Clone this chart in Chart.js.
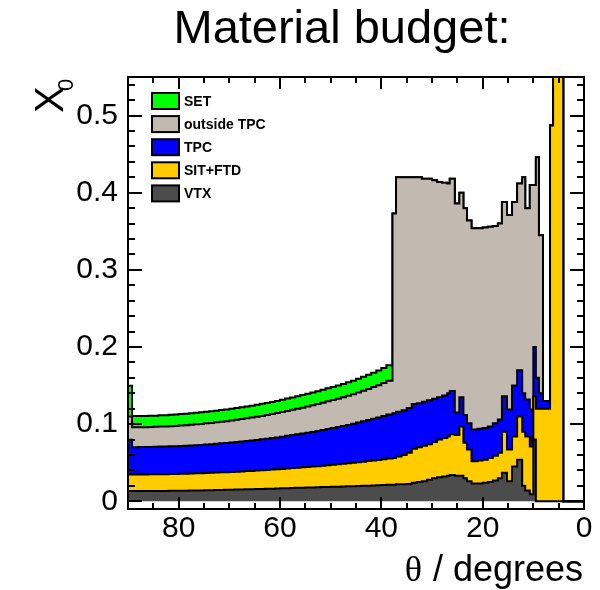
<!DOCTYPE html>
<html><head><meta charset="utf-8">
<script src="https://cdn.jsdelivr.net/npm/chart.js@4/dist/chart.umd.min.js"></script>
<style>html,body{margin:0;padding:0;background:#fff}canvas{display:block}</style>
</head><body>
<canvas id="c" width="600" height="590"></canvas>
<script>
// Bin edges in theta (degrees), from 90 down to 0
const thetaEdges = [90, 89.2, 88, 87, 86, 85, 84, 83, 82, 81, 80, 79, 78, 77, 76, 75, 74, 73, 72, 71, 70, 69, 68, 67, 66,
  65, 64, 63, 62, 61, 60, 59, 58, 57, 56, 55, 54, 53, 52, 51, 50, 49, 48, 47, 46, 45, 44, 43, 42, 41, 40, 39,
  37.8, 37.1, 36, 35, 34, 33, 32, 31, 30, 29, 28, 27, 26.5, 25.5, 24.6, 23.8, 23.1, 22.2, 21, 20, 19, 18, 17, 16.2, 15.2, 14.2,
  13.2, 12.2, 11.6, 10.7, 10, 9.5, 8.9, 8.1, 6.7, 6.1, 4.1, 0];

// Per-bin material budget (X0) of each sub-detector
const vtx = [0.0133, 0.0132,
  0.0133, 0.0133, 0.0133, 0.0133, 0.0134, 0.0134, 0.0135, 0.0136, 0.0137, 0.0138, 0.0139, 0.0140, 0.0141, 0.0143, 0.0144,
  0.0146, 0.0147, 0.0149, 0.0150, 0.0152, 0.0153, 0.0155, 0.0156, 0.0158, 0.0160, 0.0162, 0.0164, 0.0166, 0.0168, 0.0170,
  0.0172, 0.0174, 0.0176, 0.0178, 0.0180, 0.0182, 0.0184, 0.0186, 0.0188, 0.0190, 0.0192, 0.0194, 0.0196, 0.0198, 0.0201,
  0.0203, 0.0206, 0.0208, 0.0211, 0.0214,
  0.0215, 0.022, 0.022, 0.0225, 0.024, 0.025, 0.026, 0.028, 0.030, 0.031, 0.032, 0.033, 0.034, 0.033, 0.033, 0.030, 0.026,
  0.023, 0.023, 0.024, 0.025, 0.027, 0.030, 0.037, 0.026, 0.045, 0.054, 0.020, 0.014, 0.009, 0.080, 0, 0, 0, 0, 0, 0];
const sitFtd = [0.0215, 0.0215,
  0.0215, 0.0215, 0.0216, 0.0216, 0.0217, 0.0217, 0.0218, 0.0218, 0.0219, 0.0220, 0.0221, 0.0222, 0.0223, 0.0224, 0.0225,
  0.0226, 0.0228, 0.0229, 0.0231, 0.0232, 0.0234, 0.0236, 0.0238, 0.0240, 0.0242, 0.0244, 0.0247, 0.0249, 0.0252, 0.0255,
  0.0258, 0.0261, 0.0264, 0.0267, 0.0270, 0.0273, 0.0277, 0.0281, 0.0285, 0.0289, 0.0294, 0.0298, 0.0303, 0.0308, 0.0313,
  0.0318, 0.0323, 0.0328, 0.0334, 0.0340,
  0.0345, 0.036, 0.038, 0.0405, 0.044, 0.045, 0.046, 0.046, 0.047, 0.049, 0.050, 0.051, 0.053, 0.053, 0.064, 0.046, 0.041,
  0.029, 0.030, 0.030, 0.031, 0.032, 0.033, 0.053, 0.041, 0.039, 0.056, 0.070, 0.070, 0.062, 0.056, 0.120, 0.120, 0.120,
  0.487, 0.700, 0];
const tpc = [0.045, 0.0355,
  0.0355, 0.0356, 0.0356, 0.0357, 0.0358, 0.0358, 0.0359, 0.0360, 0.0361, 0.0363, 0.0364, 0.0366, 0.0367, 0.0369, 0.0371,
  0.0373, 0.0376, 0.0378, 0.0381, 0.0384, 0.0387, 0.0390, 0.0393, 0.0397, 0.0401, 0.0405, 0.0409, 0.0413, 0.0418, 0.0423,
  0.0428, 0.0433, 0.0438, 0.0444, 0.0449, 0.0455, 0.0462, 0.0469, 0.0476, 0.0483, 0.0490, 0.0498, 0.0506, 0.0514, 0.0523,
  0.0532, 0.0541, 0.0551, 0.0561, 0.0572,
  0.058, 0.058, 0.058, 0.058, 0.058, 0.057, 0.057, 0.057, 0.056, 0.055, 0.055, 0.056, 0.056, 0.029, 0.038, 0.036, 0.034,
  0.041, 0.041, 0.041, 0.041, 0.042, 0.043, 0.046, 0.052, 0.066, 0.060, 0.050, 0.048, 0.048, 0.064, 0.040, 0.020, 0.010,
  0, 0, 0];
const outsideTpc = [0.030, 0.0257,
  0.0257, 0.0257, 0.0258, 0.0259, 0.0260, 0.0261, 0.0262, 0.0263, 0.0265, 0.0266, 0.0268, 0.0270, 0.0272, 0.0274, 0.0276,
  0.0278, 0.0281, 0.0283, 0.0286, 0.0289, 0.0292, 0.0295, 0.0298, 0.0301, 0.0304, 0.0308, 0.0311, 0.0315, 0.0319, 0.0323,
  0.0327, 0.0332, 0.0336, 0.0341, 0.0345, 0.0350, 0.0355, 0.0360, 0.0364, 0.0368, 0.0373, 0.0378, 0.0383, 0.0389, 0.0396,
  0.0403, 0.0410, 0.0418, 0.0427, 0.0437,
  0.259, 0.304, 0.302, 0.299, 0.294, 0.293, 0.289, 0.287, 0.283, 0.279, 0.276, 0.272, 0.275, 0.271, 0.265, 0.268, 0.263,
  0.261, 0.260, 0.260, 0.259, 0.256, 0.254, 0.252, 0.252, 0.238, 0.242, 0.280, 0.248, 0.291, 0.210, 0.286, 0.205, 0,
  0, 0, 0];
const setValues = [0.040, 0.0145,
  0.0145, 0.0145, 0.0145, 0.0145, 0.0146, 0.0146, 0.0147, 0.0147, 0.0148, 0.0148, 0.0149, 0.0149, 0.0150, 0.0150, 0.0151,
  0.0151, 0.0152, 0.0152, 0.0153, 0.0153, 0.0154, 0.0154, 0.0155, 0.0155, 0.0156, 0.0156, 0.0157, 0.0158, 0.0159, 0.0160,
  0.0161, 0.0162, 0.0163, 0.0164, 0.0165, 0.0166, 0.0167, 0.0168, 0.0169, 0.0170, 0.0172, 0.0174, 0.0176, 0.0178, 0.0181,
  0.0184, 0.0187, 0.0191, 0.0195, 0.0200,
  0, 0, 0, 0, 0, 0, 0, 0, 0, 0, 0, 0, 0, 0, 0, 0, 0, 0, 0, 0, 0, 0, 0, 0, 0, 0, 0, 0, 0, 0, 0, 0, 0, 0, 0, 0, 0];

const seriesLabels = ['VTX', 'SIT+FTD', 'TPC', 'outside TPC', 'SET'];
const seriesColors = ['#4c4c4c', '#ffcc00', '#0000ff', '#c2b9b0', '#00ff00'];
const xTicks = [0, 20, 40, 60, 80];
const yTicks = [0, 0.1, 0.2, 0.3, 0.4, 0.5];

function toPoints(vals) {
  return thetaEdges.map((e, i) => ({ x: e, y: vals[Math.min(i, vals.length - 1)] }));
}
const seriesValues = [vtx, sitFtd, tpc, outsideTpc, setValues];
const datasets = seriesValues.map((vals, i) => ({
  label: seriesLabels[i],
  data: toPoints(vals),
  stepped: true,
  fill: i === 0 ? 'origin' : '-1',
  backgroundColor: seriesColors[i],
  borderColor: '#000',
  borderWidth: 2,
  pointRadius: 0,
  tension: 0
}));

const decor = {
  id: 'decor',
  afterDraw(chart) {
    const { ctx, chartArea: a, scales } = chart;
    const xs = scales.x, ys = scales.y;
    ctx.save();
    ctx.strokeStyle = '#000';
    ctx.lineWidth = 2;
    // y ticks (inside, both sides)
    for (let k = 0; k <= 27; k++) {
      const py = Math.round(ys.getPixelForValue(k * 0.02));
      const len = (k % 5 === 0) ? 14 : 7;
      ctx.beginPath();
      ctx.moveTo(a.left, py); ctx.lineTo(a.left + len, py);
      ctx.moveTo(a.right, py); ctx.lineTo(a.right - len, py);
      ctx.stroke();
    }
    // x ticks (inside, bottom and top)
    for (let t = 0; t <= 90; t += 5) {
      const px = Math.round(xs.getPixelForValue(t));
      const len = (t % 20 === 0) ? 12 : 6;
      ctx.beginPath();
      ctx.moveTo(px, a.bottom); ctx.lineTo(px, a.bottom - len);
      ctx.moveTo(px, a.top); ctx.lineTo(px, a.top + len);
      ctx.stroke();
    }
    // frame
    ctx.strokeRect(a.left, a.top, a.right - a.left, a.bottom - a.top);

    // legend
    const ds = chart.data.datasets.slice().reverse();
    ds.forEach((d, i) => {
      const cy = 101 + i * 23.1;
      ctx.fillStyle = d.backgroundColor;
      ctx.fillRect(152, cy - 8, 27, 16);
      ctx.strokeRect(152, cy - 8, 27, 16);
      ctx.fillStyle = '#000';
      ctx.font = 'bold 14px "Liberation Sans"';
      ctx.textAlign = 'left';
      ctx.textBaseline = 'middle';
      ctx.fillText(d.label, 184, cy + 1);
    });

    // title
    ctx.fillStyle = '#000';
    ctx.textBaseline = 'alphabetic';
    ctx.textAlign = 'center';
    ctx.font = '47px "Liberation Sans"';
    ctx.fillText('Material budget:', 342, 43);

    // x title
    ctx.textAlign = 'right';
    ctx.font = '36px "Liberation Sans"';
    const rest = ' / degrees';
    ctx.fillText(rest, 583, 581);
    const w = ctx.measureText(rest).width;
    ctx.font = '36px "Liberation Serif"';
    ctx.fillText('\u03b8', 583 - w - 1, 581);

    // y title (rotated X_0)
    ctx.save();
    ctx.translate(63, 113);
    ctx.rotate(-Math.PI / 2);
    ctx.textAlign = 'left';
    ctx.font = '40px "Liberation Sans"';
    ctx.fillText('X', 0, 0);
    ctx.font = '22px "Liberation Sans"';
    ctx.fillText('0', 22, 10);
    ctx.restore();

    ctx.restore();
  }
};

new Chart(document.getElementById('c'), {
  type: 'line',
  data: { datasets },
  options: {
    animation: false,
    responsive: false,
    devicePixelRatio: 1,
    layout: { padding: { left: 0, right: 16, top: 77, bottom: 31 } },
    plugins: { legend: { display: false }, tooltip: { enabled: false }, title: { display: false } },
    scales: {
      x: {
        type: 'linear', reverse: true, min: 0, max: 90,
        grid: { display: false, drawTicks: false }, border: { display: false },
        afterBuildTicks: s => { s.ticks = xTicks.map(v => ({ value: v })); },
        afterFit: s => { s.height = 50; },
        ticks: { font: { family: 'Liberation Sans', size: 30 }, color: '#000', padding: 2, maxRotation: 0,
          callback: v => String(v) }
      },
      y: {
        stacked: true, min: -0.01, max: 0.55,
        grid: { display: false, drawTicks: false }, border: { display: false },
        afterBuildTicks: s => { s.ticks = yTicks.map(v => ({ value: v })); },
        afterFit: s => { s.width = 128; },
        ticks: { font: { family: 'Liberation Sans', size: 30 }, color: '#000', padding: 10,
          callback: v => String(v) }
      }
    }
  },
  plugins: [decor]
});
</script>
</body></html>
